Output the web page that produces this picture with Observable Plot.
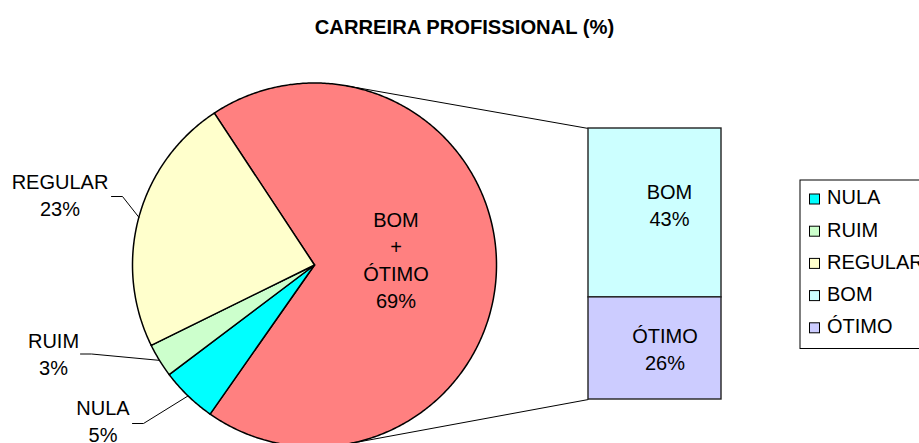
<!DOCTYPE html>
<html><head><meta charset="utf-8">
<script src="https://cdn.jsdelivr.net/npm/d3@7"></script>
<script src="https://cdn.jsdelivr.net/npm/@observablehq/plot@0.6"></script>
<style>html,body{margin:0;padding:0;background:#fff;overflow:hidden}</style>
</head><body><div id="chart"></div>
<script>
// ---- data ----
const title = "CARREIRA PROFISSIONAL (%)";
const categories = ["NULA", "RUIM", "REGULAR", "BOM", "ÓTIMO"];
const values = [5, 3, 23, 43, 26];
const colors = ["#00FFFF", "#CCFFCC", "#FFFFCC", "#CCFFFF", "#CCCCFF"];
const pieCategories = ["NULA", "RUIM", "REGULAR"];
const barCategories = ["BOM", "ÓTIMO"];
const otherLabel = "BOM\n+\nÓTIMO";
const otherColor = "#FF8080";

// ---- layout ----
const W = 919, H = 443;
const FONT = "Liberation Sans, Arial, Helvetica, sans-serif";
const FS = 20;
const pie = {cx: 314, cy: 264.5, r: 182, rot: 0.8 * Math.PI / 180};
const bar = {x1: 588, x2: 721, top: 128, bottom: 399};
const labelPos = {
  "NULA": {x: 102.5, y: 419.5, lx: 132, ex: 143, ly: 423},
  "RUIM": {x: 53, y: 352.5, lx: 80, ex: 91, ly: 353.5},
  "REGULAR": {x: 59.5, y: 193.5, lx: 111, ex: 122, ly: 196},
  "other": {x: 395.5, y: 258.5},
  "BOM": {x: 669, y: 203.5},
  "ÓTIMO": {x: 664.5, y: 347}
};
const legend = {x1: 800, y1: 180, x2: 940, y2: 348.5, first: 199, step: 32.2, sw: 10, sx: 809.5, tx: 826.5};

// ---- derived ----
const valOf = n => values[categories.indexOf(n)];
const colOf = n => colors[categories.indexOf(n)];
const otherVal = d3.sum(barCategories, valOf);
const total = otherVal + d3.sum(pieCategories, valOf);
const TAU = Math.PI * 2;
const slices = [{key: "other", value: otherVal, fill: otherColor, label: otherLabel}]
  .concat(pieCategories.map(n => ({key: n, value: valOf(n), fill: colOf(n), label: n})));
let a = Math.PI / 2 - (otherVal / total) * TAU / 2 + pie.rot;
for (const s of slices) { s.a0 = a; s.a1 = a + s.value / total * TAU; a = s.a1; s.am = (s.a0 + s.a1) / 2; }
const pt = (ang, rr = pie.r) => ({x: pie.cx + rr * Math.sin(ang), y: pie.cy - rr * Math.cos(ang)});

const slicePts = [];
for (const s of slices) {
  const n = Math.max(2, Math.ceil((s.a1 - s.a0) / 0.01));
  slicePts.push({key: s.key, fill: s.fill, x: pie.cx, y: pie.cy});
  for (let i = 0; i <= n; i++) slicePts.push({key: s.key, fill: s.fill, ...pt(s.a0 + (s.a1 - s.a0) * i / n)});
  slicePts.push({key: s.key, fill: s.fill, x: pie.cx, y: pie.cy});
}

const k = (bar.bottom - bar.top) / otherVal;
let cum = 0;
const barData = barCategories.map(n => {
  const d = {key: n, value: valOf(n), fill: colOf(n), y1: bar.top + cum * k};
  cum += d.value; d.y2 = bar.top + cum * k; return d;
});

function tangent(px, py, sign) {
  const dx = px - pie.cx, dy = py - pie.cy, d = Math.hypot(dx, dy);
  const ang = Math.atan2(dy, dx) + sign * Math.acos(pie.r / d);
  return {x: pie.cx + pie.r * Math.cos(ang), y: pie.cy + pie.r * Math.sin(ang)};
}
const tTop = tangent(bar.x1, bar.top, -1), tBot = tangent(bar.x1, bar.bottom, 1);
const connectors = [
  {x1: tTop.x, y1: tTop.y, x2: bar.x1, y2: bar.top},
  {x1: tBot.x, y1: tBot.y, x2: bar.x1, y2: bar.bottom}
];

const leaderPts = [];
for (const s of slices.filter(s => s.key !== "other")) {
  const p = labelPos[s.key], e = pt(s.am);
  leaderPts.push({key: s.key, x: p.lx, y: p.ly}, {key: s.key, x: p.ex, y: p.ly}, {key: s.key, x: e.x, y: e.y});
}

const pieLabels = slices.map(s => ({text: s.label + "\n" + s.value + "%", ...labelPos[s.key]}));
const barLabels = barData.map(d => ({text: d.key + "\n" + d.value + "%", ...labelPos[d.key]}));
const legendData = categories.map((n, i) => ({name: n, fill: colors[i], cy: legend.first + i * legend.step}));

const chart = Plot.plot({
  width: W, height: H, margin: 0,
  x: {domain: [0, W], range: [0, W], axis: null},
  y: {domain: [0, H], range: [0, H], axis: null},
  color: {type: "identity"},
  style: {fontFamily: FONT, background: "#fff", overflow: "hidden"},
  marks: [
    Plot.line(slicePts, {x: "x", y: "y", z: "key", fill: "fill", stroke: "#000", strokeWidth: 1.5, strokeLinejoin: "round"}),
    Plot.link(connectors, {x1: "x1", y1: "y1", x2: "x2", y2: "y2", stroke: "#000", strokeWidth: 1}),
    Plot.rect(barData, {x1: () => bar.x1, x2: () => bar.x2, y1: "y1", y2: "y2", fill: "fill", stroke: "#222", strokeWidth: 1.4}),
    Plot.line(leaderPts, {x: "x", y: "y", z: "key", stroke: "#000", strokeWidth: 1}),
    Plot.text(pieLabels.concat(barLabels), {x: "x", y: "y", text: "text", fontSize: FS, lineHeight: 1.35, fill: "#000", fontFamily: FONT}),
    Plot.text([title], {x: () => 464, y: () => 27, text: d => d, fontSize: 20.2, fontWeight: "bold", fill: "#000", fontFamily: FONT}),
    Plot.rect([legend], {x1: "x1", x2: "x2", y1: "y1", y2: "y2", fill: "#fff", stroke: "#000", strokeWidth: 1}),
    Plot.rect(legendData, {x1: () => legend.sx, x2: () => legend.sx + legend.sw, y1: d => d.cy - legend.sw / 2, y2: d => d.cy + legend.sw / 2, fill: "fill", stroke: "#000", strokeWidth: 1}),
    Plot.text(legendData, {x: () => legend.tx, y: d => d.cy - 1.5, text: "name", textAnchor: "start", fontSize: FS, fill: "#000", fontFamily: FONT})
  ]
});
document.getElementById("chart").appendChild(chart);
</script>
</body></html>
